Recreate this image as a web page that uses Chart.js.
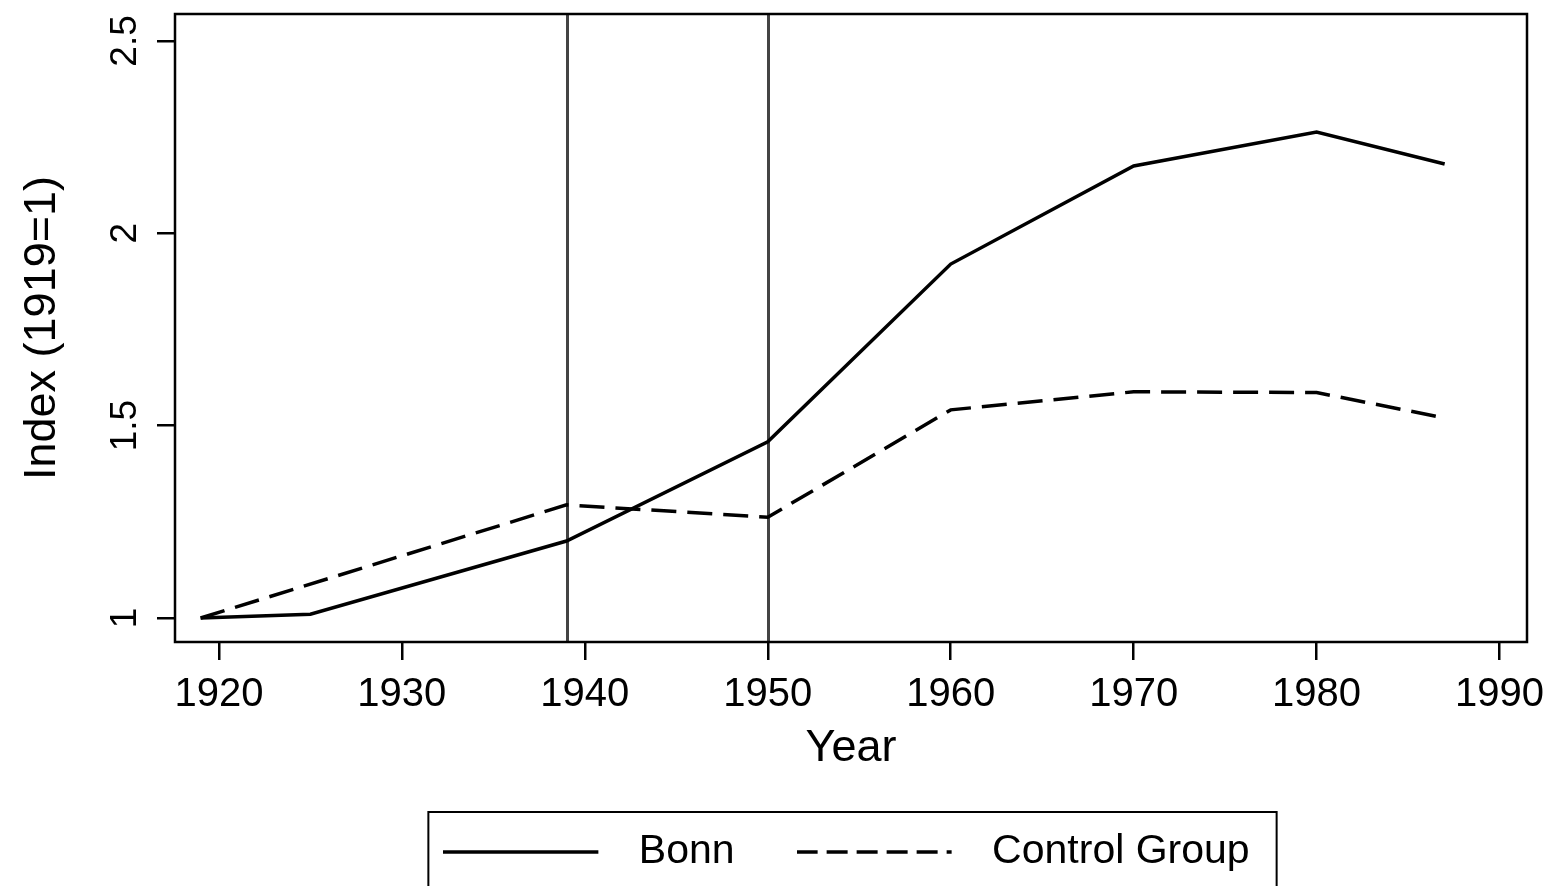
<!DOCTYPE html>
<html><head><meta charset="utf-8">
<script src="https://cdn.jsdelivr.net/npm/chart.js@4.4.1/dist/chart.umd.min.js"></script>
<style>html,body{margin:0;padding:0;background:#fff;}#wrap{width:1553px;height:886px;}</style>
</head><body><div id="wrap"><canvas id="c" width="1553" height="886"></canvas></div>
<script>
const bonnYears = [1919, 1925, 1939, 1950, 1960, 1970, 1980, 1987];
const bonnValues = [1.0, 1.01, 1.2, 1.458, 1.92, 2.175, 2.263, 2.18];
const controlYears = [1919, 1939, 1950, 1960, 1970, 1980, 1987];
const controlValues = [1.0, 1.294, 1.262, 1.541, 1.588, 1.586, 1.52];
const xTicks = [1920, 1930, 1940, 1950, 1960, 1970, 1980, 1990];
const yTicks = [1, 1.5, 2, 2.5];
const eventYears = [1939, 1950];
const seriesNames = ['Bonn', 'Control Group'];

const FONT = "'Liberation Sans', Arial, sans-serif";
const LEGEND_PAD = 62;

const toPts = (xs, ys) => xs.map((x, i) => ({x: x, y: ys[i]}));

function makeSample(dash) {
  const c = document.createElement('canvas');
  c.width = 175; c.height = 8;
  const g = c.getContext('2d');
  g.strokeStyle = '#000';
  g.lineWidth = 3.5;
  g.setLineDash(dash);
  g.beginPath(); g.moveTo(0, 4); g.lineTo(155, 4); g.stroke();
  return c;
}

const framePlugin = {
  id: 'frame',
  afterLayout(chart) {
    const lg = chart.legend;
    lg.left += 83; lg.right += 83;
  },
  beforeDatasetsDraw(chart) {
    const {ctx, chartArea: a, scales: {x}} = chart;
    ctx.save();
    ctx.strokeStyle = '#444';
    ctx.lineWidth = 3;
    eventYears.forEach(yr => {
      const px = Math.round(x.getPixelForValue(yr)) + 0.5;
      ctx.beginPath(); ctx.moveTo(px, a.top); ctx.lineTo(px, a.bottom); ctx.stroke();
    });
    ctx.restore();
  },
  afterDraw(chart) {
    const {ctx, chartArea: a, legend: lg} = chart;
    ctx.save();
    ctx.strokeStyle = '#000';
    ctx.lineWidth = 2.5;
    ctx.strokeRect(a.left, a.top, a.right - a.left, a.bottom - a.top);
    const lw = lg.lineWidths[0];
    const start = (lg.left + LEGEND_PAD + lg.right - lw) / 2;
    const end = start + lw - LEGEND_PAD;
    ctx.lineWidth = 2;
    ctx.strokeRect(start - 15, lg.top + 42.5, end - start + 42, 200);
    ctx.restore();
  }
};

const samples = [makeSample([]), makeSample([21, 9])];

new Chart(document.getElementById('c'), {
  type: 'scatter',
  data: {
    datasets: [
      {label: seriesNames[0], data: toPts(bonnYears, bonnValues), showLine: true,
       borderColor: '#000', backgroundColor: '#000', borderWidth: 3.5, pointRadius: 0, tension: 0},
      {label: seriesNames[1], data: toPts(controlYears, controlValues), showLine: true,
       borderColor: '#000', backgroundColor: '#000', borderWidth: 3.5, borderDash: [25, 11], pointRadius: 0, tension: 0}
    ]
  },
  options: {
    responsive: false,
    animation: false,
    layout: {padding: {top: 14, right: 26, left: 0, bottom: 3.5}},
    plugins: {
      tooltip: {enabled: false},
      legend: {
        position: 'bottom',
        labels: {
          usePointStyle: true,
          pointStyleWidth: 175,
          boxHeight: 3,
          color: '#000',
          font: {family: FONT, size: 41},
          padding: LEGEND_PAD,
          generateLabels(chart) {
            return chart.data.datasets.map((d, i) => ({
              text: d.label, strokeStyle: '#000', fillStyle: '#000', lineWidth: 3,
              pointStyle: samples[i], datasetIndex: i, fontColor: '#000'
            }));
          }
        }
      }
    },
    scales: {
      x: {
        type: 'linear', min: 1917.6, max: 1991.5,
        afterBuildTicks(s) { s.ticks = xTicks.map(v => ({value: v})); },
        afterFit(s) { s.height = 127.5; s.paddingLeft = 0; s.paddingRight = 0; },
        grid: {display: true, drawOnChartArea: false, drawTicks: true, tickLength: 18, color: '#000', lineWidth: 2.5},
        border: {display: false},
        ticks: {color: '#000', font: {family: FONT, size: 40}, padding: 11, maxRotation: 0, minRotation: 0, autoSkip: false,
                callback: v => String(v)},
        title: {display: true, text: 'Year', color: '#000', font: {family: FONT, size: 45, lineHeight: 0.93}, padding: {top: 0, bottom: 0}}
      },
      y: {
        type: 'linear', min: 0.9376, max: 2.57,
        afterBuildTicks(s) { s.ticks = yTicks.map(v => ({value: v})); },
        afterFit(s) { s.width = 175; s.paddingTop = 0; s.paddingBottom = 0; },
        grid: {display: true, drawOnChartArea: false, drawTicks: true, tickLength: 18, color: '#000', lineWidth: 2.5},
        border: {display: false},
        ticks: {color: '#000', font: {family: FONT, size: 37}, padding: 5, minRotation: 90, maxRotation: 90, autoSkip: false,
                crossAlign: 'center', callback: v => String(v)},
        title: {display: true, text: 'Index (1919=1)', color: '#000', font: {family: FONT, size: 45}, padding: {top: 16, bottom: 0}}
      }
    }
  },
  plugins: [framePlugin]
});
</script>
</body></html>
